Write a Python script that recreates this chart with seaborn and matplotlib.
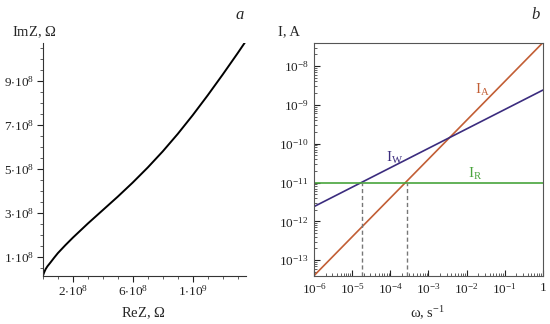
import numpy as np
import pandas as pd
import seaborn as sns
import matplotlib.pyplot as plt
from matplotlib.ticker import MultipleLocator, FixedLocator, LogLocator, NullFormatter

sns.set_theme(style='ticks')
plt.rcParams['font.family'] = ['Liberation Serif', 'DejaVu Serif']
plt.rcParams['mathtext.fontset'] = 'custom'
plt.rcParams['mathtext.rm'] = 'Liberation Serif'
plt.rcParams['mathtext.it'] = 'Liberation Serif:italic'

# panel a: Nyquist curve (units of 1e8 Ohm)
rez = [0.0, 0.08, 0.18, 0.3, 0.5, 0.75, 1.0, 1.5, 2.0, 3.0, 4.0, 5.0, 6.0, 7.0,
       8.0, 9.0, 10.0, 11.0, 12.0, 13.0, 13.5]
imz = [0.15, 0.3, 0.45, 0.58, 0.75, 0.97, 1.18, 1.54, 1.88, 2.52, 3.13, 3.74, 4.38,
       5.06, 5.79, 6.58, 7.43, 8.33, 9.27, 10.24, 10.74]

# panel b: current components vs frequency (log-log straight lines)
omega = [1e-6, 1.0]
i_a = [4e-14, 4e-8]
i_w = [2.4e-12, 2.4e-9]
i_r = [1e-11, 1e-11]
omega_cross = [1.8e-5, 2.7e-4]

df_a = pd.DataFrame({'rez': np.array(rez) * 1e8, 'imz': np.array(imz) * 1e8})
df_b = pd.DataFrame({'omega': omega * 3,
                     'I': i_a + i_w + i_r,
                     'comp': ['A'] * 2 + ['W'] * 2 + ['R'] * 2})
colors = {'A': '#c25e35', 'W': '#3b2c7e', 'R': '#48a43c'}

fig = plt.figure(figsize=(5.5, 3.24), dpi=100)
ax1 = fig.add_axes([0.078, 0.148, 0.369, 0.719])
ax2 = fig.add_axes([0.571, 0.148, 0.416, 0.719])

# ---- panel a
sns.lineplot(data=df_a, x='rez', y='imz', ax=ax1, color='black', lw=1.4,
             sort=False, estimator=None)
ax1.set_xlim(0, 13.55e8)
ax1.set_ylim(0.14e8, 10.7e8)
sns.despine(ax=ax1)
ax1.xaxis.set_major_locator(FixedLocator([2e8, 6e8, 10e8]))
ax1.xaxis.set_minor_locator(MultipleLocator(1e8))
ax1.yaxis.set_major_locator(FixedLocator([1e8, 3e8, 5e8, 7e8, 9e8]))
ax1.yaxis.set_minor_locator(MultipleLocator(0.5e8))
ax1.set_xticklabels([r'$\mathregular{2{\cdot}10^8}$', r'$\mathregular{6{\cdot}10^8}$',
                     r'$\mathregular{1{\cdot}10^9}$'])
ax1.set_yticklabels([r'$\mathregular{%d{\cdot}10^8}$' % v for v in [1, 3, 5, 7, 9]])
ax1.tick_params(which='major', length=4, width=0.8, labelsize=9.5, pad=2, colors='#222')
ax1.tick_params(which='minor', length=2.5, width=0.6, colors='#444')
for s in ax1.spines.values():
    s.set_linewidth(0.8)
    s.set_color('#333')
ax1.set_xlabel('')
ax1.set_ylabel('')

# ---- panel b
sns.lineplot(data=df_b, x='omega', y='I', hue='comp', palette=colors, ax=ax2,
             lw=1.2, legend=False, estimator=None)
ax2.set_xscale('log')
ax2.set_yscale('log')
ax2.set_xlim(1e-6, 1)
ax2.set_ylim(3.9e-14, 3.9e-8)
ymin = ax2.get_ylim()[0]
ax2.vlines(omega_cross, ymin, i_r[0], colors='#777777', linestyles=(0, (3, 2)), lw=1.0)
ax2.xaxis.set_major_locator(FixedLocator([1e-6, 1e-5, 1e-4, 1e-3, 1e-2, 1e-1, 1]))
ax2.xaxis.set_minor_locator(LogLocator(base=10, subs=np.arange(2, 10), numticks=20))
ax2.xaxis.set_minor_formatter(NullFormatter())
ax2.set_xticklabels([r'$\mathregular{10^{-%d}}$' % k for k in [6, 5, 4, 3, 2, 1]] + ['1'])
ax2.yaxis.set_major_locator(FixedLocator([1e-8, 1e-9, 1e-10, 1e-11, 1e-12, 1e-13]))
ax2.yaxis.set_minor_locator(LogLocator(base=10, subs=np.arange(2, 10), numticks=20))
ax2.yaxis.set_minor_formatter(NullFormatter())
ax2.set_yticklabels([r'$\mathregular{10^{-%d}}$' % k for k in [8, 9, 10, 11, 12, 13]])
ax2.tick_params(which='major', direction='in', length=4, width=0.8, labelsize=9.5,
                pad=4, colors='#222')
ax2.tick_params(which='minor', direction='in', length=2, width=0.6, colors='#444')
for s in ax2.spines.values():
    s.set_linewidth(0.8)
    s.set_color('#555')
ax2.set_xlabel('')
ax2.set_ylabel('')

ax2.text(1.65e-2, 1.9e-9, r'$\mathregular{I_A}$', color=colors['A'], fontsize=11)
ax2.text(7.5e-5, 3.4e-11, r'$\mathregular{I_W}$', color=colors['W'], fontsize=11)
ax2.text(1.1e-2, 1.35e-11, r'$\mathregular{I_R}$', color=colors['R'], fontsize=11)

# labels and panel letters
fig.text(12 / 550, 1 - 32 / 324, r'ImZ, $\mathregular{\Omega}$', fontsize=10.5,
         va='center', ha='left')
fig.text(278 / 550, 1 - 32 / 324, 'I, A', fontsize=10.5, va='center', ha='left')
fig.text(143 / 550, 1 - 313 / 324, r'ReZ, $\mathregular{\Omega}$', fontsize=10.5,
         va='center', ha='center')
fig.text(428 / 550, 1 - 313 / 324, r'$\mathregular{\omega}$, s$^{\mathregular{-1}}$',
         fontsize=10.5, va='center', ha='center')
fig.text(240 / 550, 1 - 15 / 324, 'a', fontsize=12, style='italic', va='center', ha='center')
fig.text(536 / 550, 1 - 15 / 324, 'b', fontsize=12, style='italic', va='center', ha='center')

fig.savefig('out.png', dpi=100)
